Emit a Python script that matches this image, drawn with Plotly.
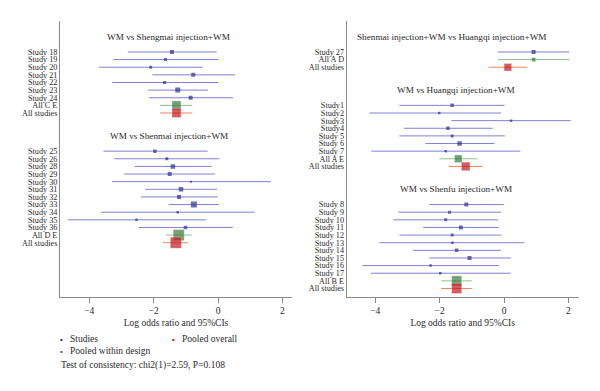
import plotly.graph_objects as go

# ---------------- data ----------------
# Left panel, group 1: WM vs Shengmai injection+WM
sm_title = "WM vs Shengmai injection+WM"
sm_labels = ["Study 18", "Study 19", "Study 20", "Study 21", "Study 22", "Study 23", "Study 24", "All C E", "All studies"]
sm_kind = ["s", "s", "s", "s", "s", "s", "s", "w", "o"]
sm_est = [-1.43, -1.63, -2.09, -0.77, -1.66, -1.25, -0.85, -1.29, -1.29]
sm_lo = [-2.80, -3.25, -3.70, -2.04, -3.28, -2.18, -2.15, -1.80, -1.80]
sm_hi = [-0.04, 0.02, -0.48, 0.53, 0.01, -0.31, 0.47, -0.80, -0.80]
sm_wt = [4, 3, 3, 4, 3, 5, 4, 9, 9]

# Left panel, group 2: WM vs Shenmai injection+WM
sn_title = "WM vs Shenmai injection+WM"
sn_labels = ["Study 25", "Study 26", "Study 28", "Study 29", "Study 30", "Study 31", "Study 32", "Study 33",
             "Study 34", "Study 35", "Study 36", "All D E", "All studies"]
sn_kind = ["s"] * 11 + ["w", "o"]
sn_est = [-1.96, -1.59, -1.40, -1.50, -0.84, -1.15, -1.21, -0.75, -1.25, -2.53, -1.01, -1.22, -1.31]
sn_lo = [-3.56, -3.22, -2.59, -2.91, -3.29, -2.26, -2.40, -1.53, -3.63, -4.66, -2.46, -1.61, -1.71]
sn_hi = [-0.32, 0.04, -0.20, -0.09, 1.64, -0.03, 0.00, 0.03, 1.14, -0.37, 0.46, -0.82, -0.94]
sn_wt = [3.5, 3, 4.5, 4, 2, 4.5, 4, 6, 2.5, 2.5, 3.5, 11, 11]

# Right panel, group 1: Shenmai injection+WM vs Huangqi injection+WM
sh_title = "Shenmai injection+WM vs Huangqi injection+WM"
sh_labels = ["Study 27", "All A D", "All studies"]
sh_kind = ["s", "w", "o"]
sh_est = [0.92, 0.92, 0.12]
sh_lo = [-0.20, -0.20, -0.48]
sh_hi = [2.03, 2.03, 0.72]
sh_wt = [4, 4, 7.5]

# Right panel, group 2: WM vs Huangqi injection+WM
hq_title = "WM vs Huangqi injection+WM"
hq_labels = ["Study1", "Study2", "Study3", "Study4", "Study 5", "Study 6", "Study 7", "All A E", "All studies"]
hq_kind = ["s"] * 7 + ["w", "o"]
hq_est = [-1.61, -2.01, 0.22, -1.74, -1.61, -1.38, -1.81, -1.42, -1.19]
hq_lo = [-3.25, -4.18, -1.63, -3.11, -3.25, -2.44, -4.12, -2.01, -1.72]
hq_hi = [0.02, -0.09, 2.07, -0.35, 0.03, -0.30, 0.51, -0.82, -0.66]
hq_wt = [3.5, 2.5, 2.5, 3.5, 3, 4.5, 2.5, 7.5, 8.5]

# Right panel, group 3: WM vs Shenfu injection+WM
sf_title = "WM vs Shenfu injection+WM"
sf_labels = ["Study 8", "Study 9", "Study 10", "Study 11", "Study 12", "Study 13", "Study 14", "Study 15",
             "Study 16", "Study 17", "All B E", "All studies"]
sf_kind = ["s"] * 10 + ["w", "o"]
sf_est = [-1.17, -1.69, -1.81, -1.34, -1.61, -1.60, -1.47, -1.07, -2.28, -1.98, -1.47, -1.47]
sf_lo = [-2.32, -3.28, -3.44, -2.51, -3.25, -3.87, -2.83, -2.33, -4.40, -4.14, -1.95, -1.95]
sf_hi = [-0.01, -0.09, -0.18, -0.16, -0.08, 0.64, -0.10, 0.21, -0.15, 0.21, -1.00, -1.00]
sf_wt = [4, 3, 3, 4, 3, 2.5, 3.5, 4, 2.5, 2.5, 10, 10]

x_ticks = [-4, -2, 0, 2]
x_title = "Log odds ratio and 95%CIs"
legend_items = ["Studies", "Pooled overall", "Pooled within design"]
consistency = "Test of consistency: chi2(1)=2.59, P=0.108"

# ---------------- styling ----------------
FONT = "Liberation Serif"
TXT = "#2a2a2a"
AX = "#8a8a8a"
STY = {
    "s": dict(line="#8080d4", mk="#2e3192"),
    "w": dict(line="#8fbf8f", mk="#3b7a3b"),
    "o": dict(line="#f08458", mk="#c8161d"),
}
OFF = 8                      # default page body margin
W, H = 600 - OFF, 391 - OFF  # figure size that fits the window
ROW_PX = 7.63
ROW0_PX = 36.7
Y_TOP_PX, Y_BOT_PX = 21.0, 296.5


def px_x(p):
    return (p - OFF) / W


def px_y(p):
    return 1 - (p - OFF) / H


left_groups = [(sm_title, sm_labels, sm_kind, sm_est, sm_lo, sm_hi, sm_wt),
               (sn_title, sn_labels, sn_kind, sn_est, sn_lo, sn_hi, sn_wt)]
right_groups = [(sh_title, sh_labels, sh_kind, sh_est, sh_lo, sh_hi, sh_wt),
                (hq_title, hq_labels, hq_kind, hq_est, hq_lo, hq_hi, hq_wt),
                (sf_title, sf_labels, sf_kind, sf_est, sf_lo, sf_hi, sf_wt)]

fig = go.Figure()
annotations = []


def layout_groups(groups, xa, ya, title_cx_px):
    row = 0
    tickvals, ticktext = [], []
    for gi, (title, labels, kind, est, lo, hi, wt) in enumerate(groups):
        title_row = row
        annotations.append(dict(
            x=px_x(title_cx_px[gi]), y=px_y(ROW0_PX + title_row * ROW_PX),
            xref="paper", yref="paper", text=title, showarrow=False,
            font=dict(family=FONT, size=9.2, color=TXT), xanchor="center", yanchor="middle"))
        rows = [title_row + 2 + i for i in range(len(labels))]
        tickvals += rows
        ticktext += labels
        for k in ["s", "w", "o"]:
            idx = [i for i in range(len(labels)) if kind[i] == k]
            if not idx:
                continue
            fig.add_trace(go.Scatter(
                x=[est[i] for i in idx], y=[rows[i] for i in idx],
                xaxis=xa, yaxis=ya, mode="markers", showlegend=False, hoverinfo="skip",
                marker=dict(symbol="square", size=[wt[i] for i in idx], color=STY[k]["mk"],
                            line=dict(width=0.4 if k != "s" else 0, color="rgba(255,255,255,0.7)")),
                error_x=dict(type="data", symmetric=False,
                             array=[hi[i] - est[i] for i in idx],
                             arrayminus=[est[i] - lo[i] for i in idx],
                             color=STY[k]["line"], thickness=1, width=0),
            ))
        row = rows[-1] + 3
    return tickvals, ticktext


ltv, ltt = layout_groups(left_groups, "x", "y", [168, 169])
rtv, rtt = layout_groups(right_groups, "x2", "y2", [452, 455.8, 455.7])

yr = [(Y_BOT_PX - ROW0_PX) / ROW_PX, (Y_TOP_PX - ROW0_PX) / ROW_PX]
ydom = [px_y(Y_BOT_PX), px_y(Y_TOP_PX)]


def xaxis(dom, rng, anchor):
    return dict(domain=dom, range=rng, anchor=anchor, tickvals=x_ticks, showgrid=False, zeroline=False,
                showline=True, linecolor=AX, linewidth=1, ticks="outside", ticklen=5,
                tickcolor=AX, tickwidth=1, tickfont=dict(family=FONT, size=9.5, color=TXT),
                title=dict(text=x_title, font=dict(family=FONT, size=9.5, color=TXT), standoff=4))


def yaxis(anchor, tv, tt):
    return dict(domain=ydom, range=yr, anchor=anchor, tickvals=tv, ticktext=tt,
                showgrid=False, zeroline=False, showline=True, linecolor=AX, linewidth=1,
                ticks="", ticklen=0, tickfont=dict(family=FONT, size=8.2, color=TXT))


fig.update_layout(
    width=W, height=H, margin=dict(l=0, r=0, t=0, b=0),
    paper_bgcolor="white", plot_bgcolor="white", showlegend=False,
    xaxis=xaxis([px_x(60), px_x(292)], [-4.907, 2.298], "y"),
    yaxis=yaxis("x", ltv, ltt),
    xaxis2=xaxis([px_x(346.7), px_x(578.7)], [-4.885, 2.32], "y2"),
    yaxis2=yaxis("x2", rtv, rtt),
)

# legend (as text)
leg = [(61, 339.3, STY["s"]["mk"], legend_items[0], 68),
       (173.3, 339.3, STY["o"]["mk"], legend_items[1], 180),
       (61, 351, STY["w"]["mk"], legend_items[2], 68)]
for dx, dy, col, txt, tx in leg:
    annotations.append(dict(x=px_x(dx), y=px_y(dy), xref="paper", yref="paper", text="▪",
                            showarrow=False, font=dict(family="DejaVu Sans", size=4, color=col),
                            xanchor="center", yanchor="middle"))
    annotations.append(dict(x=px_x(tx), y=px_y(dy), xref="paper", yref="paper", text=txt,
                            showarrow=False, font=dict(family=FONT, size=9.5, color=TXT),
                            xanchor="left", yanchor="middle"))
annotations.append(dict(x=px_x(59), y=px_y(365), xref="paper", yref="paper", text=consistency,
                        showarrow=False, font=dict(family=FONT, size=9.5, color=TXT),
                        xanchor="left", yanchor="middle"))
fig.update_layout(annotations=annotations)

fig.write_html("out.html")
